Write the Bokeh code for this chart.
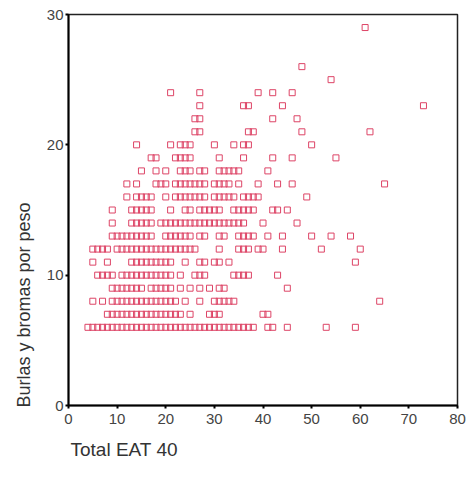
from bokeh.plotting import figure
from bokeh.models import Range1d, FixedTicker, ColumnDataSource, Title
from bokeh.embed import file_html
from bokeh.resources import INLINE

# Points grouped by y value (Burlas y bromas por peso) -> list of Total EAT 40 values
row_y6 = [4, 5, 6, 7, 8, 9, 10, 11, 12, 13, 14, 15, 16, 17, 18, 19, 20, 21, 22, 23, 24, 25, 26, 27, 28,
          29, 30, 31, 32, 33, 34, 35, 36, 37, 38, 41, 42, 45, 53, 59]
row_y7 = [8, 9, 10, 11, 12, 13, 14, 15, 16, 17, 18, 19, 20, 21, 22, 23, 25, 29, 30, 31, 40, 41]
row_y8 = [5, 7, 9, 10, 11, 12, 13, 14, 15, 16, 17, 18, 19, 20, 21, 22, 24, 27, 30, 31, 32, 33, 34, 64]
row_y9 = [9, 10, 11, 12, 13, 14, 15, 17, 18, 19, 20, 21, 23, 25, 27, 29, 31, 32, 45]
row_y10 = [6, 7, 8, 9, 11, 12, 13, 14, 15, 16, 17, 18, 19, 20, 21, 23, 26, 27, 28, 34, 35, 36, 37, 43]
row_y11 = [5, 8, 13, 14, 15, 16, 17, 18, 19, 20, 21, 24, 27, 28, 30, 31, 33, 59]
row_y12 = [5, 6, 7, 8, 10, 11, 12, 13, 14, 15, 16, 17, 18, 19, 20, 21, 22, 23, 24, 25, 26, 31, 35, 36,
           37, 39, 40, 44, 52, 60]
row_y13 = [9, 10, 11, 12, 13, 14, 15, 16, 17, 20, 21, 22, 23, 24, 25, 27, 28, 31, 32, 35, 36, 37, 38,
           41, 44, 50, 54, 58]
row_y14 = [9, 13, 14, 15, 16, 17, 19, 20, 21, 22, 23, 24, 25, 26, 27, 28, 29, 30, 31, 32, 33, 34, 35,
           36, 40, 47]
row_y15 = [9, 13, 14, 15, 16, 17, 21, 24, 25, 27, 28, 29, 30, 31, 34, 35, 36, 37, 38, 42, 43, 45]
row_y16 = [12, 14, 15, 16, 17, 20, 22, 23, 24, 25, 26, 27, 28, 30, 31, 32, 33, 34, 36, 37, 38, 39, 49]
row_y17 = [12, 14, 18, 19, 20, 22, 23, 24, 25, 26, 27, 28, 30, 31, 32, 33, 35, 39, 43, 46, 65]
row_y18 = [15, 18, 20, 23, 24, 25, 27, 28, 31, 32, 33, 34, 35, 41]
row_y19 = [17, 18, 22, 23, 24, 25, 31, 36, 42, 46, 55]
row_y20 = [14, 21, 23, 24, 25, 30, 34, 36, 37, 50]
row_y21 = [26, 27, 37, 38, 48, 62]
row_y22 = [26, 27, 42, 47]
row_y23 = [27, 36, 37, 44, 73]
row_y24 = [21, 27, 39, 42, 46]
row_y25 = [54]
row_y26 = [48]
row_y29 = [61]

x_ticks = [0, 10, 20, 30, 40, 50, 60, 70, 80]
y_ticks = [0, 10, 20, 30]
x_title = "Total EAT 40"
y_title = "Burlas y bromas por peso"

rows = {6: row_y6, 7: row_y7, 8: row_y8, 9: row_y9, 10: row_y10, 11: row_y11, 12: row_y12,
        13: row_y13, 14: row_y14, 15: row_y15, 16: row_y16, 17: row_y17, 18: row_y18,
        19: row_y19, 20: row_y20, 21: row_y21, 22: row_y22, 23: row_y23, 24: row_y24,
        25: row_y25, 26: row_y26, 29: row_y29}
xs, ys = [], []
for yv, xl in rows.items():
    for xv in xl:
        xs.append(xv)
        ys.append(yv)
src = ColumnDataSource(dict(x=xs, y=ys))

p = figure(width=468, height=479, output_backend="svg", toolbar_location=None,
           x_range=Range1d(0, 80), y_range=Range1d(0, 30),
           min_border_left=68, min_border_right=11, min_border_top=14, min_border_bottom=74)
p.xgrid.visible = False
p.ygrid.visible = False
p.background_fill_color = "white"
p.border_fill_color = "white"
p.outline_line_color = "#222222"
p.outline_line_width = 1.5

p.scatter("x", "y", source=src, marker="square", size=6, fill_color=None,
          line_color="#dd4466", line_width=1)

for ax in (p.xaxis[0], p.yaxis[0]):
    ax.axis_line_color = "black"
    ax.axis_line_width = 2
    ax.major_tick_line_color = "black"
    ax.major_tick_line_width = 2
    ax.major_tick_out = 3
    ax.major_tick_in = 0
    ax.minor_tick_line_color = None
    ax.major_label_text_font = "Liberation Sans"
    ax.major_label_text_font_size = "15px"
    ax.major_label_text_color = "#444444"
p.xaxis[0].ticker = FixedTicker(ticks=x_ticks)
p.yaxis[0].ticker = FixedTicker(ticks=y_ticks)
p.xaxis[0].major_label_standoff = 5
p.yaxis[0].major_label_standoff = 2

p.add_layout(Title(text=x_title, align="left", vertical_align="top", offset=2, standoff=25,
                   text_font="Liberation Sans", text_font_size="19px",
                   text_font_style="normal", text_color="#333333"), "below")
p.add_layout(Title(text=y_title, align="left", offset=-2, standoff=20,
                   text_font="Liberation Sans", text_font_size="18px",
                   text_font_style="normal", text_color="#333333"), "left")

open("out.html", "w").write(file_html(p, INLINE))
